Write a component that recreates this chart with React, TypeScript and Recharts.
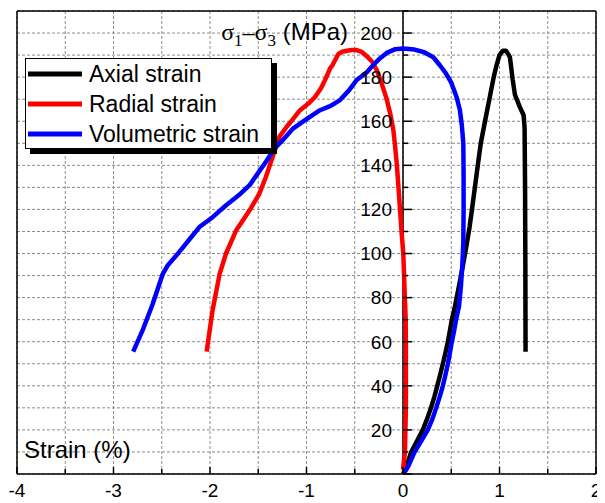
import {
  LineChart,
  Line,
  XAxis,
  YAxis,
  CartesianGrid,
  ReferenceLine,
  Legend,
} from "recharts";

// axial strain (%) vs deviatoric stress (MPa)
const axialStrain = [
  0, 0.04, 0.085, 0.145, 0.205, 0.25, 0.29, 0.325, 0.355, 0.385, 0.413, 0.44,
  0.465, 0.486, 0.506, 0.534, 0.57, 0.61, 0.65, 0.69, 0.73, 0.775, 0.806, 0.85,
  0.895, 0.94, 0.97, 1.0, 1.035, 1.065, 1.09, 1.108, 1.137, 1.16, 1.21, 1.25,
  1.26, 1.265, 1.268, 1.27,
];
const axialStress = [
  0, 4, 10, 15, 20, 25, 30, 35, 40, 45, 50, 55, 60, 65, 70, 75, 83, 92, 101.6,
  112, 125, 140, 150, 160, 170, 180, 185.5, 190, 192, 192, 190.5, 189, 178.7,
  172, 166.5, 162.7, 157, 130, 95, 55.5,
];

const radialStrain = [
  0, 0.02, 0.03, 0.03, 0.028, 0.02, 0.003, -0.015, -0.031, -0.05, -0.065, -0.085,
  -0.1, -0.13, -0.169, -0.22, -0.27, -0.32, -0.376, -0.43, -0.48, -0.53, -0.58,
  -0.63, -0.67, -0.7, -0.73, -0.756, -0.78, -0.808, -0.85, -0.912, -0.98, -1.067,
  -1.14, -1.205, -1.28, -1.35, -1.42, -1.49, -1.59, -1.66, -1.73, -1.834, -1.9,
  -1.973, -2.035,
];
const radialStress = [
  2, 10, 30, 56, 70, 79, 100, 110, 120, 132, 141, 150, 156, 163, 170, 177, 183,
  187, 189.5, 191.5, 192.3, 192.3, 192, 191.5, 190.5, 188, 185.5, 184, 181.5,
  178.7, 175, 171, 168, 165, 161, 157.5, 153, 144, 134.8, 127, 119.6, 115,
  110.4, 100, 90.8, 74.4, 55.5,
];

const volumetricStrain = [
  0.02, 0.06, 0.12, 0.19, 0.257, 0.305, 0.344, 0.38, 0.413, 0.44, 0.465, 0.486,
  0.506, 0.53, 0.55, 0.58, 0.6, 0.615, 0.625, 0.628, 0.628, 0.625, 0.61, 0.59,
  0.555, 0.5, 0.44, 0.38, 0.314, 0.22, 0.12, 0, -0.08, -0.169, -0.24, -0.308,
  -0.38, -0.48, -0.56, -0.653, -0.75, -0.86, -1.0, -1.137, -1.25, -1.33, -1.42,
  -1.51, -1.59, -1.7, -1.83, -1.97, -2.11, -2.21, -2.32, -2.44, -2.49, -2.595,
  -2.7, -2.796,
];
const volumetricStress = [
  1, 4, 10, 15, 20, 25, 30, 35, 40, 45, 50, 55, 60, 65, 70, 76, 85, 95, 105, 120,
  135, 150, 158, 165, 171, 177.5, 182, 185.5, 189, 191.3, 192.5, 193, 192.7, 191,
  188.5, 185.5, 182, 178.7, 174, 169.6, 167, 165, 161, 156.8, 151.3, 147.7,
  141.6, 136, 131, 126.5, 122, 116.6, 112, 106.6, 100.6, 94.5, 90.7, 77, 65, 55.5,
];

const xTicks = [-4, -3.5, -3, -2.5, -2, -1.5, -1, -0.5, 0, 0.5, 1, 1.5, 2];
const yTicks = [
  0, 10, 20, 30, 40, 50, 60, 70, 80, 90, 100, 110, 120, 130, 140, 150, 160, 170,
  180, 190, 200, 210,
];

const toPoints = (xs: number[], ys: number[]) =>
  xs.map((x, i) => ({ strain: x, stress: ys[i] }));

const series = [
  { name: "Axial strain", color: "#000000", data: toPoints(axialStrain, axialStress) },
  { name: "Radial strain", color: "#ff0000", data: toPoints(radialStrain, radialStress) },
  { name: "Volumetric strain", color: "#0000ff", data: toPoints(volumetricStrain, volumetricStress) },
];

const W = 597;
const H = 495;
const MARGIN = { top: 2, right: 8, left: 8, bottom: 0 };
const X_MIN = -4;
const X_MAX = 2;
const Y_MAX = 210;
const PLOT_W = W - MARGIN.left - MARGIN.right - 2;
// y axis sits on strain = 0, not on the left edge
const ZERO_OFFSET = (PLOT_W * (0 - X_MIN)) / (X_MAX - X_MIN);

const SANS = "'Liberation Sans', Arial, sans-serif";
const SERIF = "'Liberation Serif', 'Times New Roman', serif";
const frame = { stroke: "#000", strokeWidth: 1.5 };

const XTick = ({ x, y, payload }: any) => {
  const v = payload.value;
  const major = Number.isInteger(v);
  return (
    <g>
      <line x1={x} y1={y} x2={x} y2={y - (major ? 7 : 5)} stroke="#000" strokeWidth={1.5} />
      {major && (
        <text x={x} y={y + 9} dy="0.72em" textAnchor="middle" fontSize={19} fontFamily={SANS} fill="#000">
          {v}
        </text>
      )}
    </g>
  );
};

const YTick = ({ x, y, payload }: any) => {
  const v = payload.value;
  const major = v % 20 === 0;
  const x0 = x + ZERO_OFFSET;
  return (
    <g>
      <line x1={x0} y1={y} x2={x0 + (major ? 9 : 5)} y2={y} stroke="#000" strokeWidth={1.5} />
      {major && v !== 0 && (
        <text x={x0 - 11} y={y} dy="0.36em" textAnchor="end" fontSize={19} fontFamily={SANS} fill="#000">
          {v}
        </text>
      )}
    </g>
  );
};

const StressLabel = ({ viewBox }: any) => {
  const vx = (viewBox?.x ?? MARGIN.left) + (viewBox?.width ?? 1);
  const vy = viewBox?.y ?? MARGIN.top + 1;
  return (
    <text x={vx + ZERO_OFFSET - 55} y={vy + 29} textAnchor="end" fontSize={24} fill="#000">
      <tspan fontFamily={SERIF}>σ</tspan>
      <tspan fontFamily={SERIF} fontSize={17} dy={6}>1</tspan>
      <tspan fontFamily={SERIF} dy={-6}>–</tspan>
      <tspan fontFamily={SERIF}>σ</tspan>
      <tspan fontFamily={SERIF} fontSize={17} dy={6}>3</tspan>
      <tspan fontFamily={SANS} dy={-6}> (MPa)</tspan>
    </text>
  );
};

const StrainLabel = ({ viewBox }: any) => {
  const vx = viewBox?.x ?? MARGIN.left + 1;
  const vy = viewBox?.y ?? H - 29;
  return (
    <text x={vx + 7} y={vy - 16} fontSize={24} fontFamily={SANS} fill="#000">
      Strain (%)
    </text>
  );
};

const LegendBox = ({ payload }: any) => (
  <div
    style={{
      boxSizing: "border-box",
      width: 247,
      height: 91,
      border: "1px solid #000",
      background: "#fff",
      boxShadow: "5px 5px 0 #000",
      paddingLeft: 2,
      fontFamily: SANS,
      fontSize: 23,
      color: "#000",
    }}
  >
    {(payload || []).map((p: any) => (
      <div key={p.value} style={{ display: "flex", alignItems: "center", height: 30 }}>
        <svg width={54} height={6}>
          <line x1={0} y1={3} x2={54} y2={3} stroke={p.color} strokeWidth={5} />
        </svg>
        <span style={{ marginLeft: 7, whiteSpace: "nowrap" }}>{p.value}</span>
      </div>
    ))}
  </div>
);

export default function App() {
  return (
    <LineChart width={W} height={H} margin={MARGIN}>
      <CartesianGrid stroke="#8c8c8c" strokeDasharray="3 2" />
      <XAxis
        dataKey="strain"
        type="number"
        domain={[X_MIN, X_MAX]}
        ticks={xTicks}
        interval={0}
        allowDataOverflow
        height={29}
        tickSize={0}
        tickMargin={0}
        tickLine={false}
        axisLine={frame}
        tick={<XTick />}
        label={<StrainLabel />}
      />
      <XAxis
        xAxisId="top"
        orientation="top"
        type="number"
        domain={[X_MIN, X_MAX]}
        height={1}
        tick={false}
        tickLine={false}
        axisLine={frame}
      />
      <YAxis
        dataKey="stress"
        type="number"
        domain={[0, Y_MAX]}
        ticks={yTicks}
        interval={0}
        allowDataOverflow
        width={1}
        tickSize={0}
        tickMargin={0}
        tickLine={false}
        axisLine={frame}
        tick={<YTick />}
        label={<StressLabel />}
      />
      <YAxis
        yAxisId="right"
        orientation="right"
        type="number"
        domain={[0, Y_MAX]}
        width={1}
        tick={false}
        tickLine={false}
        axisLine={frame}
      />
      <ReferenceLine x={0} stroke="#000" strokeWidth={1.5} />
      <Legend
        layout="vertical"
        align="center"
        verticalAlign="middle"
        content={<LegendBox />}
        wrapperStyle={{ left: 17, top: 50, width: "auto", height: "auto" }}
      />
      {series.map((s) => (
        <Line
          key={s.name}
          data={s.data}
          dataKey="stress"
          name={s.name}
          stroke={s.color}
          strokeWidth={4.5}
          strokeLinejoin="round"
          type="linear"
          dot={false}
          activeDot={false}
          isAnimationActive={false}
        />
      ))}
    </LineChart>
  );
}
